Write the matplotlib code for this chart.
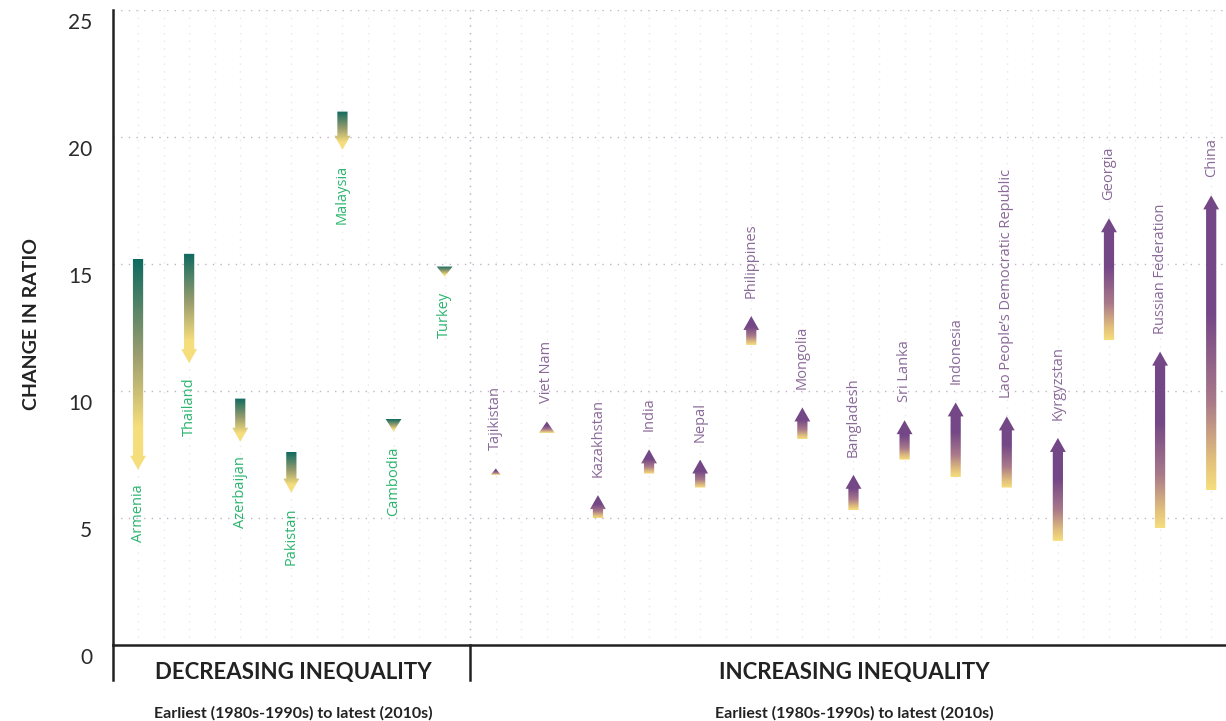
import numpy as np
import matplotlib
matplotlib.use("Agg")
import matplotlib.pyplot as plt
from matplotlib.patches import Polygon
from matplotlib.colors import LinearSegmentedColormap
from matplotlib.transforms import blended_transform_factory, ScaledTranslation

# data
dec_countries = ["Armenia", "Thailand", "Azerbaijan", "Pakistan", "Malaysia", "Cambodia", "Turkey"]
dec_start = [15.2, 15.4, 9.7, 7.6, 21.0, 8.9, 14.9]
dec_end = [6.9, 11.1, 8.0, 6.0, 19.5, 8.4, 14.5]

inc_countries = ["Tajikistan", "Viet Nam", "Kazakhstan", "India", "Nepal", "Philippines",
                 "Mongolia", "Bangladesh", "Sri Lanka", "Indonesia",
                 "Lao People\u2019s Democratic Republic", "Kyrgyzstan", "Georgia",
                 "Russian Federation", "China"]
inc_start = [6.7, 8.35, 5.0, 6.75, 6.2, 11.8, 8.1, 5.3, 7.3, 6.6, 6.2, 4.1, 12.0, 4.6, 6.1]
inc_end = [6.95, 8.8, 5.9, 7.7, 7.3, 12.95, 9.35, 6.7, 8.85, 9.55, 9.0, 8.15, 16.8, 11.55, 17.7]

y_ticks = [0, 5, 10, 15, 20, 25]

TEAL = "#0e6a60"
YELLOW = "#f6de7c"
PURPLE = "#744787"
GREEN_TXT = "#2bb56e"
PURPLE_TXT = "#8a6a98"

cmap_dec = LinearSegmentedColormap.from_list(
    "dec", [(0, TEAL), (0.45, "#9a9d6e"), (0.8, YELLOW), (1, YELLOW)])
cmap_inc = LinearSegmentedColormap.from_list(
    "inc", [(0, YELLOW), (0.1, "#e2c07c"), (0.3, "#a9798a"), (0.6, PURPLE), (1, PURPLE)])

fig = plt.figure(figsize=(12.26, 7.21), dpi=100)
ax = fig.add_axes([113 / 1226, 1 - 645 / 721, 1 - 113 / 1226, 635 / 721])

xmin, xmax = -0.49, 21.29
ax.set_xlim(xmin, xmax)
ax.set_ylim(0, 25)

# faint minor vertical dotted grid
for gx in np.arange(0, 21.6, 0.5):
    ax.axvline(gx, color="#ebe6ee", lw=1, ls=(0, (1, 4.5)), zorder=0)
# major horizontal dotted grid
for gy in y_ticks[1:]:
    ax.axhline(gy, color="#c3b3c9", lw=1, ls=(0, (1, 4.5)), zorder=1)
# separator between the two groups
n_dec = len(dec_countries)
ax.axvline(n_dec - 0.5, color="#c3b3c9", lw=1, ls=(0, (1, 4.5)), zorder=1)


def draw_arrow(xc, s, e, cmap):
    d = 1 if e > s else -1
    L = abs(e - s)
    hl = min(0.55, L)
    shaft = 0.1
    head = 0.155 * min(1.0, L / 0.4)
    base = e - d * hl
    if L > hl:
        pts = [(xc - shaft, s), (xc + shaft, s), (xc + shaft, base), (xc + head, base),
               (xc, e), (xc - head, base), (xc - shaft, base)]
    else:
        pts = [(xc - head, base), (xc + head, base), (xc, e)]
    poly = Polygon(pts, closed=True, facecolor="none", edgecolor="none")
    ax.add_patch(poly)
    grad = np.linspace(0, 1, 256).reshape(-1, 1)
    lo, hi = min(s, e), max(s, e)
    img = grad[::-1] if d < 0 else grad
    im = ax.imshow(img, cmap=cmap, aspect="auto", origin="lower",
                   extent=[xc - head - 0.05, xc + head + 0.05, lo, hi], zorder=3)
    im.set_clip_path(poly)


for i, (name, s, e) in enumerate(zip(dec_countries, dec_start, dec_end)):
    draw_arrow(i, s, e, cmap_dec)
    ax.annotate(name, (i, e), xytext=(0, -10.5), textcoords="offset points",
                rotation=90, ha="center", va="top", color=GREEN_TXT,
                fontsize=10.5, family="Open Sans")

for j, (name, s, e) in enumerate(zip(inc_countries, inc_start, inc_end)):
    xc = n_dec + j
    draw_arrow(xc, s, e, cmap_inc)
    ax.annotate(name, (xc, e), xytext=(0, 13), textcoords="offset points",
                rotation=90, ha="center", va="bottom", color=PURPLE_TXT,
                fontsize=10.5, family="Open Sans")

ax.set_xlim(xmin, xmax)
ax.set_ylim(0, 25)

# axes styling
for side in ["top", "right"]:
    ax.spines[side].set_visible(False)
for side in ["left", "bottom"]:
    ax.spines[side].set_color("#222222")
    ax.spines[side].set_linewidth(1.8)
ax.set_xticks([])
ax.set_yticks(y_ticks)
ax.tick_params(axis="y", length=0, pad=15)
shift = ScaledTranslation(0, -0.11, fig.dpi_scale_trans)
for lab in ax.get_yticklabels():
    lab.set_fontfamily("Lato")
    lab.set_fontweight("normal")
    lab.set_fontsize(15)
    lab.set_color("#2a2a2a")
    lab.set_transform(lab.get_transform() + shift)

ax.set_ylabel("CHANGE IN RATIO", fontfamily="Lato", fontweight="bold",
              fontsize=14, color="#222222")
ax.yaxis.set_label_coords(-0.066, 0.505)

# solid separators below the axis
tr = blended_transform_factory(ax.transData, ax.transAxes)
low = -35 / 635
ax.plot([xmin, xmin], [0, low], transform=tr, color="#222222", lw=1.8, clip_on=False)
ax.plot([n_dec - 0.5, n_dec - 0.5], [0, low], transform=tr, color="#222222", lw=1.8,
        clip_on=False)

# group titles
left_c = (xmin + n_dec - 0.5) / 2 + 0.03
right_c = (n_dec - 0.5 + xmax) / 2 + 0.12
ax.text(left_c, -27 / 635, "DECREASING INEQUALITY", transform=tr,
        ha="center", va="center", fontfamily="Lato", fontweight="bold", fontsize=16,
        color="#222222")
ax.text(right_c, -27 / 635, "INCREASING INEQUALITY", transform=tr,
        ha="center", va="center", fontfamily="Lato", fontweight="bold", fontsize=16,
        color="#222222")
ax.text(left_c, -68 / 635, "Earliest (1980s-1990s) to latest (2010s)",
        transform=tr, ha="center", va="center", fontfamily="Lato", fontweight="bold",
        fontsize=11.5, color="#222222")
ax.text(right_c, -68 / 635, "Earliest (1980s-1990s) to latest (2010s)",
        transform=tr, ha="center", va="center", fontfamily="Lato", fontweight="bold",
        fontsize=11.5, color="#222222")

fig.savefig("out.png", dpi=100)
